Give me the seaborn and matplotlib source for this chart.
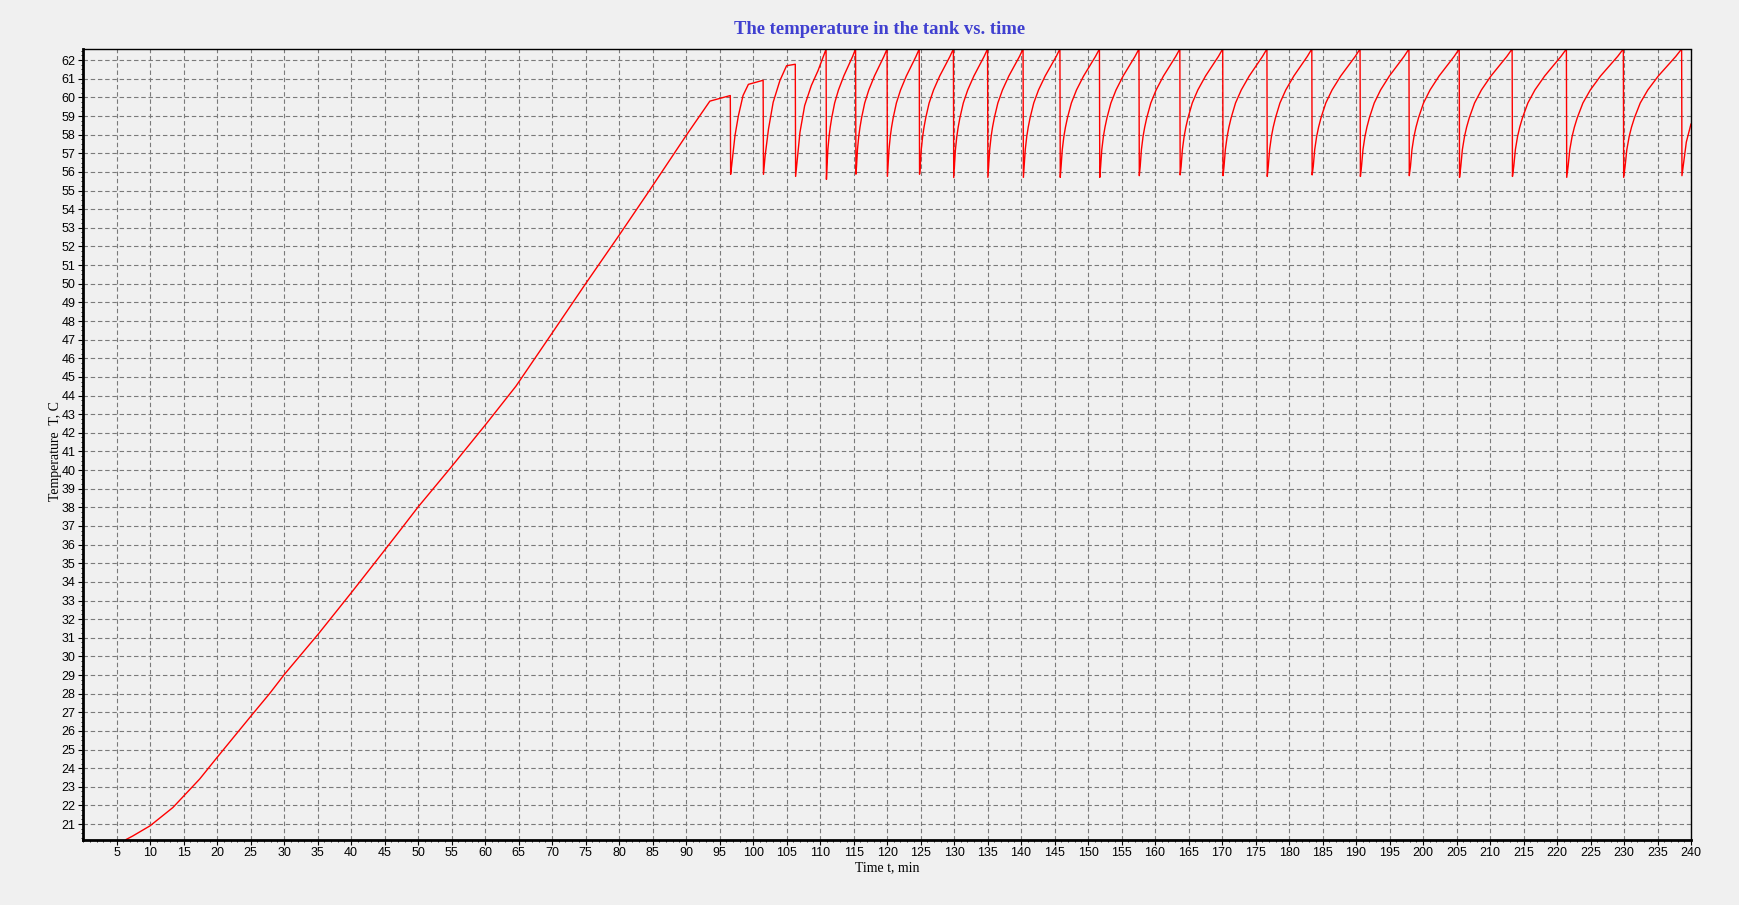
import matplotlib
matplotlib.use("Agg")
import matplotlib.pyplot as plt
import seaborn as sns
import pandas as pd
from matplotlib.ticker import MultipleLocator

# heating phase
rise_t = [6.4, 7.4, 10.0, 13.4, 17.4, 20.0, 25.1, 27.8, 30.1, 35.1, 40.1, 43.7,
          47.3, 50.0, 54.8, 60.1, 64.6, 70.0, 75.0, 80.0, 84.6, 90.0, 93.55, 96.6]
rise_T = [20.17, 20.36, 20.91, 21.89, 23.42, 24.58, 26.82, 27.99, 29.06, 31.2, 33.45, 35.1,
          36.76, 38.02, 40.1, 42.45, 44.5, 47.35, 50.0, 52.6, 55.04, 57.95, 59.8, 60.1]

# first irregular cycles
early_t = [96.65, 96.8, 97.3, 97.8, 98.5, 99.3, 101.5,
           101.55, 101.8, 102.3, 103.0, 104.0, 105.0, 106.3,
           106.35, 106.5, 107.0, 107.7, 108.7, 109.7, 110.9]
early_T = [55.87, 56.33, 57.95, 59.0, 60.1, 60.7, 60.92,
           55.87, 56.87, 58.3, 59.74, 60.9, 61.7, 61.78,
           55.76, 56.3, 58.13, 59.56, 60.64, 61.44, 62.59]

# regular cycles: times where temperature drops, and the minimum after each drop
drop_t = [110.9, 115.3, 120.0, 124.8, 129.9, 135.0, 140.3, 145.8, 151.7, 157.6, 163.7,
          170.1, 176.7, 183.4, 190.6, 197.9, 205.4, 213.3, 221.4, 229.9, 238.6]
drop_min = [55.6, 55.88, 55.76, 55.88, 55.7, 55.71, 55.71, 55.71, 55.71, 55.8, 55.84,
            55.8, 55.76, 55.84, 55.76, 55.8, 55.71, 55.76, 55.71, 55.71, 55.8]

# recovery shape measured on the cycles (fraction of the cycle, temperature)
rec_frac = [0.03, 0.06, 0.10, 0.14, 0.19, 0.29, 0.42, 0.60, 0.70, 0.80, 0.90, 1.0]
rec_T = [56.3, 57.2, 57.9, 58.4, 58.9, 59.7, 60.4, 61.15, 61.5, 61.85, 62.2, 62.6]

# last partial recovery
tail_t = [238.9, 239.3, 240.0]
tail_T = [56.5, 57.6, 58.58]

t_all = rise_t + early_t
T_all = rise_T + early_T
for i in range(len(drop_t) - 1):
    t0, t1 = drop_t[i], drop_t[i + 1]
    t_all.append(t0 + 0.05)
    T_all.append(drop_min[i])
    for f, v in zip(rec_frac, rec_T):
        t_all.append(t0 + f * (t1 - t0))
        T_all.append(v)
t_all.append(drop_t[-1] + 0.05)
T_all.append(drop_min[-1])
t_all += tail_t
T_all += tail_T

df = pd.DataFrame({"t": t_all, "T": T_all})

sns.set_theme(style="ticks")
plt.rcParams['font.family'] = ['Liberation Sans', 'DejaVu Sans']
bg = '#f0f0f0'

fig = plt.figure(figsize=(17.39, 9.05), dpi=100, facecolor=bg)
ax = fig.add_axes([0.0478, 0.0723, 0.9246, 0.8736])
ax.set_facecolor(bg)

sns.lineplot(data=df, x="t", y="T", sort=False, estimator=None,
             color='#ff0000', linewidth=1.0, ax=ax)

ax.set_xlim(0, 240)
ax.set_ylim(df["T"].min(), df["T"].max())
ax.set_xticks(range(5, 241, 5))
ax.set_yticks(range(21, 63))
ax.xaxis.set_minor_locator(MultipleLocator(1))
ax.yaxis.set_minor_locator(MultipleLocator(0.25))
ax.grid(True, which='major', color='#7a7a7a', linestyle=(0, (4, 2.5)), linewidth=0.8)
ax.set_axisbelow(True)

for s in ['left', 'bottom']:
    ax.spines[s].set_linewidth(2.0)
    ax.spines[s].set_color('black')
ax.spines['top'].set_linewidth(1.0)
ax.spines['top'].set_color('black')
ax.spines['right'].set_linewidth(1.0)
ax.spines['right'].set_color('black')
ax.spines['right'].set_linestyle((0, (2, 1)))

ax.tick_params(which='major', direction='out', length=3.5, width=0.8, labelsize=9,
               pad=2, colors='black')
ax.tick_params(which='minor', direction='out', length=1.5, width=0.6, colors='black')

ax.set_xlabel("")
ax.set_ylabel("")
fig.text(880 / 1739, 1 - 29 / 905, "The temperature in the tank vs. time", ha='center', va='center',
         fontsize=13.4, fontweight='bold', family=['Liberation Serif'], color='#4040d0')
fig.text(887 / 1739, 1 - 868 / 905, "Time t, min", ha='center', va='center',
         fontsize=10, family=['Liberation Serif'], color='black')
fig.text(55.5 / 1739, 1 - 451 / 905, "Temperature  T, C", ha='center', va='center', rotation=90,
         fontsize=10, family=['Liberation Serif'], color='black')

fig.savefig("out.png", dpi=100, facecolor=bg)
